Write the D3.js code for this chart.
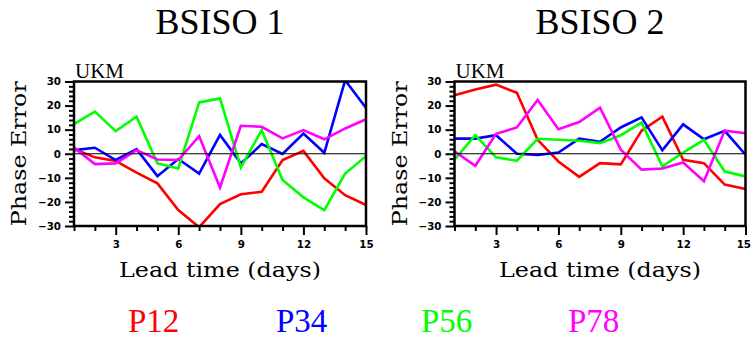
<!DOCTYPE html>
<html>
<head>
<meta charset="utf-8">
<script src="https://cdn.jsdelivr.net/npm/d3@7"></script>
<style>
  html, body { margin: 0; padding: 0; background: #fff; }
  svg { display: block; }
</style>
</head>
<body>
<svg id="chart" width="751" height="339"></svg>
<script>
// ---- data ----
const leadDays = [1, 2, 3, 4, 5, 6, 7, 8, 9, 10, 11, 12, 13, 14, 15];
const xTicks = [3, 6, 9, 12, 15];
const yTicks = [-30, -20, -10, 0, 10, 20, 30];
const seriesNames = ["P12", "P34", "P56", "P78"];
const seriesColors = ["#ff0000", "#0000ff", "#00ff00", "#ff00ff"];
const panelTitles = ["BSISO 1", "BSISO 2"];
const modelName = "UKM";

const bsiso1_P12 = [2, -1.5, -3, -7.8, -12.3, -23.4, -30.5, -20.9, -16.8, -15.8, -2.6, 1.2, -10.2, -17.2, -21.3];
const bsiso1_P34 = [1.5, 2.5, -2.6, 1.9, -9.3, -2.2, -8.2, 7.8, -4, 4, -0.1, 8.4, 0.4, 30.5, 19];
const bsiso1_P56 = [12.3, 17.5, 9.4, 15.4, -4, -6.1, 21.3, 23, -5.7, 9.8, -10.9, -18.1, -23.4, -8.2, -1];
const bsiso1_P78 = [2.6, -4.3, -4, 1.5, -2.4, -2.6, 7.3, -14, 11.6, 11.2, 6.4, 9.8, 6, 10.5, 14.3];

const bsiso2_P12 = [24.3, 26.7, 28.7, 25.3, 5.8, -3.2, -9.6, -3.9, -4.4, 9.6, 15.4, -2.5, -3.9, -12.8, -14.6];
const bsiso2_P34 = [6.3, 6.3, 7.7, 0, -0.5, 0.5, 6.3, 5, 10.9, 15.1, 1.4, 12.2, 6, 9.5, -0.4];
const bsiso2_P56 = [-2.5, 7.7, -1.5, -2.9, 6.2, 5.8, 5.4, 4.4, 7.7, 12.9, -5.2, 0.5, 5.8, -7.4, -9.4];
const bsiso2_P78 = [1, -5, 8.3, 10.9, 22.3, 10.2, 13.2, 19.1, 1.7, -6.6, -6.1, -3.6, -11.4, 9.6, 8.5];

const panelData = [
  [bsiso1_P12, bsiso1_P34, bsiso1_P56, bsiso1_P78],
  [bsiso2_P12, bsiso2_P34, bsiso2_P56, bsiso2_P78]
];

// ---- layout ----
const svg = d3.select("#chart");
const panels = [
  { x0: 74, x1: 366 },
  { x0: 454.5, x1: 745.5 }
];
const yTop = 81.5, yBot = 226;
const serif = "Liberation Serif, Times New Roman, serif";
const labelFont = "DejaVu Serif, serif";
const tickFont = "DejaVu Sans, sans-serif";

panels.forEach((p, pi) => {
  const x = d3.scaleLinear().domain([1, 15]).range([p.x0, p.x1]);
  const y = d3.scaleLinear().domain([-30, 30]).range([yBot, yTop]);
  const g = svg.append("g");
  const cx = (p.x0 + p.x1) / 2;

  // title
  g.append("text").attr("x", cx).attr("y", 34)
    .attr("text-anchor", "middle")
    .attr("font-family", serif).attr("font-size", 36)
    .text(panelTitles[pi]);

  // model label
  g.append("text").attr("x", p.x0 + 1).attr("y", 77.5)
    .attr("font-family", serif).attr("font-size", 21)
    .text(modelName);

  // clip
  const clipId = "clip" + pi;
  svg.append("clipPath").attr("id", clipId)
    .append("rect").attr("x", p.x0).attr("y", yTop)
    .attr("width", p.x1 - p.x0).attr("height", yBot - yTop);

  // data lines
  const line = d3.line().x((d, i) => x(leadDays[i])).y(d => y(d));
  const lg = g.append("g").attr("clip-path", `url(#${clipId})`);
  panelData[pi].forEach((vals, si) => {
    lg.append("path").datum(vals)
      .attr("d", line)
      .attr("fill", "none")
      .attr("stroke", seriesColors[si])
      .attr("stroke-width", 2.6)
      .attr("stroke-linejoin", "miter");
  });

  // zero reference line
  g.append("line").attr("x1", p.x0).attr("x2", p.x1)
    .attr("y1", y(0)).attr("y2", y(0))
    .attr("stroke", "#000").attr("stroke-width", 1.2);

  // y axis ticks (minor every 2, major every 10)
  const yMinor = d3.range(-30, 31, 2).filter(v => v % 10 !== 0);
  const yAxisMinor = d3.axisLeft(y).tickValues(yMinor).tickSize(5).tickFormat("");
  const yAxisMajor = d3.axisLeft(y).tickValues(yTicks).tickSize(9).tickPadding(4)
    .tickFormat(d => d < 0 ? "\u2212" + Math.abs(d) : d);
  const ya1 = g.append("g").attr("transform", `translate(${p.x0},0)`).call(yAxisMinor);
  const ya2 = g.append("g").attr("transform", `translate(${p.x0},0)`).call(yAxisMajor);
  [ya1, ya2].forEach(a => {
    a.select(".domain").remove();
    a.selectAll("line").attr("stroke", "#000").attr("stroke-width", 2);
  });
  ya2.selectAll("text").attr("font-family", tickFont).attr("font-weight", "bold")
    .attr("font-size", 10.3).attr("fill", "#000");

  // x axis ticks
  const xMinor = leadDays.filter(v => !xTicks.includes(v));
  const xAxisMinor = d3.axisBottom(x).tickValues(xMinor).tickSize(5).tickFormat("");
  const xAxisMajor = d3.axisBottom(x).tickValues(xTicks).tickSize(9).tickPadding(6).tickFormat(d3.format("d"));
  const xa1 = g.append("g").attr("transform", `translate(0,${yBot})`).call(xAxisMinor);
  const xa2 = g.append("g").attr("transform", `translate(0,${yBot})`).call(xAxisMajor);
  [xa1, xa2].forEach(a => {
    a.select(".domain").remove();
    a.selectAll("line").attr("stroke", "#000").attr("stroke-width", 2);
  });
  xa2.selectAll("text").attr("font-family", tickFont).attr("font-weight", "bold")
    .attr("font-size", 10.3).attr("fill", "#000");
  // keep the last label of the right panel inside the page
  if (pi === 1) {
    xa2.selectAll("text").filter(d => d === 15)
      .attr("text-anchor", "end").attr("x", 751 - p.x1 - 0.5);
  }

  // frame
  g.append("rect").attr("x", p.x0).attr("y", yTop)
    .attr("width", p.x1 - p.x0).attr("height", yBot - yTop)
    .attr("fill", "none").attr("stroke", "#000").attr("stroke-width", 2.5);

  // axis titles
  g.append("text").attr("x", cx).attr("y", 277)
    .attr("text-anchor", "middle")
    .attr("textLength", 202).attr("lengthAdjust", "spacingAndGlyphs")
    .attr("font-family", labelFont).attr("font-size", 20)
    .text("Lead time (days)");
  g.append("text")
    .attr("transform", `translate(${p.x0 - 48},${(yTop + yBot) / 2}) rotate(-90)`)
    .attr("text-anchor", "middle")
    .attr("textLength", 145).attr("lengthAdjust", "spacingAndGlyphs")
    .attr("font-family", labelFont).attr("font-size", 20)
    .text("Phase Error");
});

// legend
const legendX = [128, 276, 421, 568];
seriesNames.forEach((n, i) => {
  svg.append("text").attr("x", legendX[i]).attr("y", 332)
    .attr("font-family", serif).attr("font-size", 33)
    .attr("fill", seriesColors[i])
    .text(n);
});
</script>
</body>
</html>
